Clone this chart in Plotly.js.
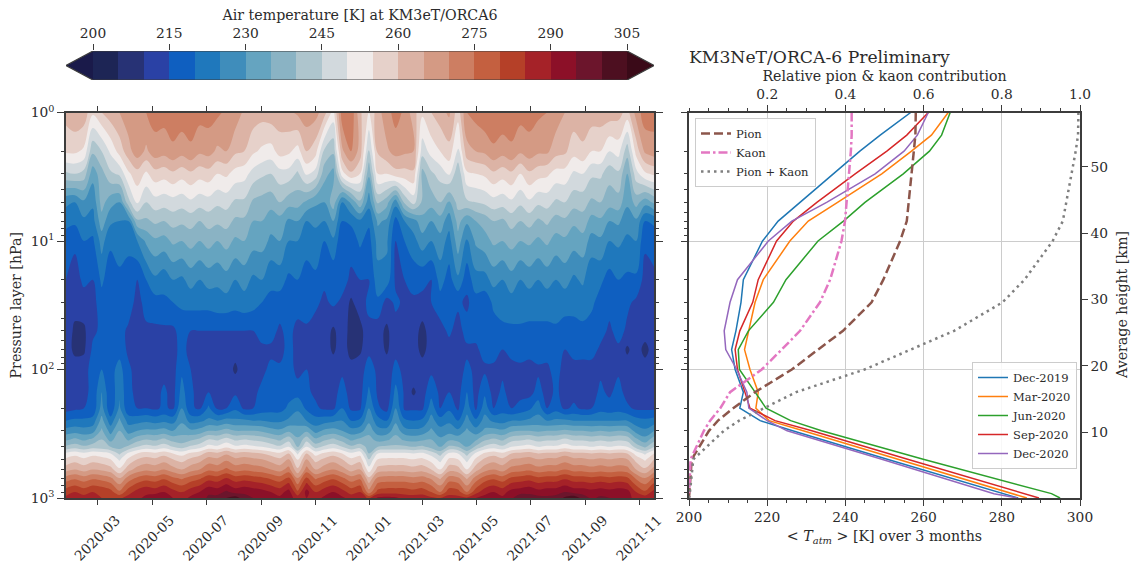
<!DOCTYPE html>
<html><head><meta charset="utf-8">
<script src="https://cdn.plot.ly/plotly-3.0.1.min.js"></script>
<style>html,body{margin:0;padding:0;background:#fff}#c{width:1136px;height:566px}</style>
</head><body><div id="c"></div>
<script>
// band colours: below 200, 200-205 ... 300-305, above 305
const bandColors=['#1a1a4a','#1d2555','#273275','#2a41a5','#0f5fc0','#1f78bc','#3f8dbb','#65a4c0','#8ab3c4','#aec5cd','#d2d9dd','#f0ebea','#e6d1ca','#dcb3a5','#d49a84','#cd7e62','#c46040','#b54028','#a52228','#8c1028','#6c152c','#4d0f20','#3a0a18'];
const colorbarTicks=[200,215,230,245,260,275,290,305];
const colorbarEdges=[200,205,210,215,220,225,230,235,240,245,250,255,260,265,270,275,280,285,290,295,300,305];
const colorbarMids=[202.5,207.5,212.5,217.5,222.5,227.5,232.5,237.5,242.5,247.5,252.5,257.5,262.5,267.5,272.5,277.5,282.5,287.5,292.5,297.5,302.5];
const startDate='2020-01-25';
const stepMs=866592000;
const pressureLevels=[1,2,3,5,7,10,20,30,50,70,100,150,200,250,300,350,400,450,500,600,700,800,900,1000];
const t1=[262,264,263,256,260,263,265,268,270,270,272,272,273,273,273,272,272,271,269,268,264,263,262,263,263,264,266,268,267,262,253,273,274,261,255,263,268,272,269,262,256,260,263,266,257,270,272,274,274,274,273,272,272,271,270,268,265,263,263,263,263,263,262,258,267,273,272];
const t2=[256,256,254,241,245,251,257,263,268,264,268,267,269,267,269,266,267,264,265,261,260,256,254,253,257,256,253,260,257,244,241,264,270,263,244,261,264,267,266,265,247,252,255,258,249,263,265,266,269,267,269,266,268,266,266,262,261,257,259,255,255,250,252,242,257,266,268];
const t3=[244,245,243,232,238,244,246,254,258,254,258,257,259,257,259,257,258,255,256,253,252,248,246,245,248,248,244,251,248,237,233,253,259,255,236,255,255,258,258,259,238,244,247,251,241,254,255,256,259,257,259,255,259,257,256,253,253,249,250,246,246,242,244,235,248,254,256];
const t5=[226,225,229,226,237,232,230,243,251,245,248,247,248,247,249,247,248,246,247,244,244,239,238,237,240,237,237,234,231,230,238,225,231,239,227,241,237,227,241,247,239,237,240,234,242,244,245,246,248,247,249,246,249,246,247,244,245,242,242,239,240,237,238,231,237,232,236];
const t7=[222,221,224,223,233,226,225,225,239,239,241,240,242,241,242,240,242,241,242,239,239,235,235,232,233,229,230,225,226,225,230,220,221,224,221,231,229,218,225,228,233,230,233,227,237,231,235,237,240,239,242,240,242,239,241,238,239,236,238,233,234,230,231,227,229,220,221];
const t10=[217,216,220,219,227,221,222,222,225,231,234,233,236,235,237,235,237,235,237,234,235,232,232,229,230,225,225,222,223,220,224,216,217,221,218,227,226,215,220,223,228,225,228,223,233,224,231,233,236,235,237,235,236,234,236,233,234,232,233,228,229,225,226,224,225,216,217];
const t20=[215,213,216,215,221,217,219,217,215,220,224,222,225,224,227,225,227,226,228,225,227,224,225,221,222,219,220,218,219,216,216,217,214,215,215,223,223,214,215,217,216,215,222,218,224,217,223,223,227,225,228,225,227,225,227,225,227,224,226,221,221,218,220,219,219,213,214];
const t30=[213,212,213,213,218,218,218,218,213,217,218,219,220,221,222,222,222,223,223,222,223,222,220,219,218,219,218,218,216,214,216,214,209,213,216,219,213,216,214,214,214,215,218,218,216,214,218,217,221,222,223,223,222,222,222,223,222,222,222,221,218,217,218,216,214,214,213];
const t50=[213,209,209,214,216,217,217,214,212,214,214,214,214,217,215,215,215,215,215,215,215,215,217,217,214,217,213,214,213,213,209,213,208,208,214,212,209,213,213,213,208,213,213,216,213,217,217,217,218,219,219,219,219,219,219,219,218,218,219,218,217,214,217,214,213,213,213];
const t70=[212,209,209,216,217,217,218,214,212,214,213,213,213,217,213,213,213,213,213,212,213,213,214,214,213,217,213,214,214,213,209,213,208,209,214,213,209,214,213,213,208,213,213,213,213,214,214,217,217,215,217,217,217,218,217,218,215,217,217,217,214,213,214,209,213,208,213];
const t100=[213,212,213,217,220,218,222,216,213,214,213,213,213,219,215,213,213,213,213,209,213,213,214,216,216,218,213,215,214,213,213,214,212,213,217,214,213,216,214,214,213,214,214,214,213,216,214,214,214,214,213,214,213,214,214,217,213,213,213,213,214,214,214,213,213,213,213];
const t150=[213,213,214,216,225,216,224,216,214,215,213,216,213,222,216,213,215,213,213,214,213,214,216,216,216,218,218,216,214,213,213,217,213,213,221,214,210,222,214,209,213,218,214,215,213,220,213,219,213,216,213,213,213,217,213,216,213,213,213,213,216,214,217,213,213,213,213];
const t200=[213,214,215,216,227,216,226,216,215,215,214,216,214,225,216,214,221,214,215,219,214,215,217,218,218,221,224,219,216,214,214,220,214,214,225,216,213,225,214,214,214,223,215,219,214,223,214,223,215,218,215,217,219,223,215,218,214,216,214,215,218,217,218,216,214,214,214];
const t250=[220,221,221,222,232,222,231,223,223,224,223,224,223,229,223,224,226,225,227,226,226,225,225,224,224,226,228,225,222,223,224,225,220,221,229,222,220,229,221,220,221,227,222,224,220,227,221,227,224,223,225,225,226,227,225,226,226,225,225,225,225,225,225,225,222,221,222];
const t300=[227,228,227,228,236,228,235,228,230,231,231,232,230,233,231,232,235,235,237,235,235,235,234,232,231,234,232,234,228,231,232,230,227,228,233,227,227,233,227,226,227,231,227,228,226,231,227,231,232,231,234,235,235,234,235,235,236,235,235,234,235,234,235,234,228,226,230];
const t350=[234,236,234,236,240,233,239,234,238,240,239,241,238,237,239,241,245,244,247,244,245,244,243,241,239,243,236,243,236,239,241,238,234,236,237,233,234,237,234,233,234,235,231,234,233,235,234,239,241,239,243,244,245,243,244,244,246,244,244,243,244,243,244,243,236,232,238];
const t400=[241,243,241,243,242,240,238,241,245,247,246,248,245,243,246,248,252,251,254,251,252,251,250,248,246,250,239,250,243,246,248,245,241,243,238,240,241,241,241,240,241,238,235,241,240,235,241,246,248,246,250,251,252,250,251,251,253,251,251,250,251,250,251,250,243,239,245];
const t450=[251,253,251,253,252,250,244,251,255,257,256,258,255,253,256,258,262,261,264,261,262,261,260,258,256,260,249,260,253,256,258,255,251,253,240,250,251,251,251,250,251,248,243,251,250,243,251,256,258,256,260,261,262,260,261,261,263,261,261,260,261,260,261,260,253,249,255];
const t500=[256,258,256,258,257,255,249,256,260,262,261,263,260,258,261,263,267,266,269,266,267,266,265,263,261,265,254,265,258,261,263,260,256,258,245,255,256,256,256,255,256,253,248,256,255,248,256,261,263,261,265,266,267,265,266,266,268,266,266,265,266,265,266,265,258,254,260];
const t600=[263,265,263,265,264,262,256,263,267,269,268,270,267,265,268,270,274,273,276,273,274,273,272,270,268,272,261,272,265,268,270,267,263,265,252,262,263,263,263,262,263,260,255,263,262,255,263,268,270,268,272,273,274,272,273,273,275,273,273,272,273,272,273,272,265,261,267];
const t700=[272,274,272,274,273,271,265,272,276,278,277,279,276,274,277,279,283,282,285,282,283,282,281,279,277,281,270,281,274,277,279,276,272,274,261,271,272,272,272,271,272,269,264,272,271,264,272,277,279,277,281,282,283,281,282,282,284,282,282,281,282,281,282,281,274,270,276];
const t800=[278,280,278,280,279,277,271,278,282,284,283,285,282,280,283,285,289,288,291,288,289,288,287,285,283,287,276,287,280,283,285,282,278,280,267,277,278,278,278,277,278,275,270,278,277,270,278,283,285,283,287,288,289,287,288,288,290,288,288,287,288,287,288,287,280,276,282];
const t900=[283,285,283,285,284,282,276,283,287,289,288,290,287,285,288,290,294,293,296,293,294,293,292,290,288,292,281,292,285,288,290,287,283,285,272,282,283,283,283,282,283,280,275,283,282,275,283,288,290,288,292,293,294,292,293,293,295,293,293,292,293,292,293,292,285,281,287];
const t1000=[286,288,287,289,285,284,284,287,289,291,294,295,290,288,291,292,296,297,300,303,297,295,295,293,291,292,288,290,288,291,291,291,288,288,284,291,292,291,288,288,288,286,285,287,287,286,290,292,292,291,294,299,297,297,296,297,301,304,298,294,296,295,292,291,289,288,289];
const tempRows=[t1,t2,t3,t5,t7,t10,t20,t30,t50,t70,t100,t150,t200,t250,t300,t350,t400,t450,t500,t600,t700,t800,t900,t1000];

const profileLevels=[1,1.5,2,3,5,7,10,20,30,50,70,100,150,200,250,300,500,925,1000];
const dec2019=[256.7,248.9,243.7,236.9,228.4,222.8,218.8,213.9,213.3,212,210.9,211.8,213.9,213,218.2,226.5,250.7,280,284.2];
const mar2020=[266.3,262,256.9,249.3,238,230.5,225.8,219,216.9,215.2,214.2,215.6,217.7,217.1,220.5,229.2,253.5,282.9,286.4];
const jun2020=[266.8,264.6,261.5,254.8,245,239.5,233,224.8,221.6,215.2,212.6,212.9,216.9,219.7,226,233.9,259.9,292.7,294.9];
const sep2020=[261.2,255.7,250.6,242.5,232.7,226.7,222.4,217.7,216.3,213,211.8,212.4,214.3,215.6,222,231.4,255.9,285.5,289.5];
const dec2020=[261.2,258.4,255,247.6,235.2,226.3,220.3,212.4,210.5,209,209.4,212.2,214.8,215.3,220,225.1,249.3,278,284];
const pion=[.58,.579,.575,.569,.563,.557,.54,.497,.467,.394,.33,.263,.169,.113,.074,.051,.007,.001,0];
const kaon=[.416,.416,.414,.409,.403,.399,.39,.361,.335,.284,.237,.186,.105,.08,.054,.038,.004,.001,0];
const pionKaon=[.996,.995,.989,.978,.966,.956,.93,.858,.802,.678,.567,.449,.274,.193,.128,.089,.011,.002,0];
const heightTicks=[10,20,30,40,50];

const W=1136,H=566,ink='#2b2b2b',spine='#3c3c3c',fnt='"DejaVu Serif",serif';
const px=x=>x/W, py=y=>(H-y)/H;
const contourScale=bandColors.map((c,i)=>[i/22,c]);
const barScale=[];colorbarMids.forEach((m,i)=>{barScale.push([i/21,bandColors[i+1]]);barScale.push([(i+1)/21,bandColors[i+1]]);});
const minorLog=[2,3,4,5,6,7,8,9,20,30,40,50,60,70,80,90,200,300,400,500,600,700,800,900];
const tickFont={family:fnt,size:13.8,color:ink};
const titleFont={family:fnt,size:14.2,color:ink};

const traces=[
 {type:'contour',x0:startDate,dx:stepMs,y:pressureLevels,z:tempRows,xaxis:'x',yaxis:'y',
  autocontour:false,contours:{start:200,end:305,size:5,coloring:'fill',showlines:false},line:{width:0},
  colorscale:contourScale,zauto:false,zmin:195,zmax:310,showscale:false,hoverinfo:'skip'},
 {type:'heatmap',x:colorbarEdges,y:[0,1],z:[colorbarMids],xaxis:'x3',yaxis:'y3',colorscale:barScale,zmin:200,zmax:305,showscale:false,hoverinfo:'skip'},
 {type:'scatter',mode:'lines',x:[200,194.69,200],y:[0,.5,1],xaxis:'x3',yaxis:'y3',fill:'toself',fillcolor:bandColors[0],line:{width:0},showlegend:false,hoverinfo:'skip',cliponaxis:false},
 {type:'scatter',mode:'lines',x:[305,310.31,305],y:[0,.5,1],xaxis:'x3',yaxis:'y3',fill:'toself',fillcolor:bandColors[22],line:{width:0},showlegend:false,hoverinfo:'skip',cliponaxis:false},
 {type:'scatter',mode:'lines',x:[200,194.69,200,305,310.31,305,200],y:[1,.5,0,0,.5,1,1],xaxis:'x3',yaxis:'y3',line:{width:1.2,color:spine},showlegend:false,hoverinfo:'skip',cliponaxis:false},
];
const seasons=[['Dec-2019',dec2019,'#1f77b4'],['Mar-2020',mar2020,'#ff7f0e'],['Jun-2020',jun2020,'#2ca02c'],['Sep-2020',sep2020,'#d62728'],['Dec-2020',dec2020,'#9467bd']];
seasons.forEach(s=>traces.push({type:'scatter',mode:'lines',name:s[0],x:s[1],y:profileLevels,xaxis:'x2',yaxis:'y2',line:{color:s[2],width:1.5},legend:'legend2',hoverinfo:'skip'}));
[['Pion',pion,'#8c564b','9px,4px'],['Kaon',kaon,'#e377c2','9px,3px,2.5px,3px'],['Pion + Kaon',pionKaon,'#7f7f7f','2.5px,4px']].forEach(s=>
 traces.push({type:'scatter',mode:'lines',name:s[0],x:s[1],y:profileLevels,xaxis:'x4',yaxis:'y2',line:{color:s[2],width:2.5,dash:s[3]},legend:'legend',hoverinfo:'skip'}));
traces.push({type:'scatter',mode:'lines',x:[200,200,200,200,200],y:heightTicks,xaxis:'x2',yaxis:'y4',line:{width:0},showlegend:false,hoverinfo:'skip'});

const layout={
 width:W,height:H,margin:{l:0,r:0,t:0,b:0},autosize:false,paper_bgcolor:'#fff',plot_bgcolor:'#fff',font:{family:fnt,size:13,color:ink},
 title:{text:'KM3NeT/ORCA-6 Preliminary',x:px(689),xanchor:'left',xref:'paper',y:py(57),yanchor:'middle',yref:'paper',font:{family:fnt,size:17.2,color:ink}},
 xaxis:{domain:[px(66),px(654)],anchor:'y',type:'date',range:['2020-01-25','2021-11-17'],tick0:'2020-03-01',dtick:'M2',tickformat:'%Y-%m',tickangle:-45,ticklabelshift:18,ticklabelstandoff:2,
  ticks:'outside',ticklen:5,tickwidth:1.2,tickcolor:spine,tickfont:tickFont,showline:true,linecolor:spine,linewidth:1.5,mirror:'allticks',showgrid:false,zeroline:false},
 yaxis:{domain:[py(498),py(112.5)],anchor:'x',type:'log',range:[3,0],tickvals:[1,10,100,1000],ticktext:['10<sup>0</sup>','10<sup>1</sup>','10<sup>2</sup>','10<sup>3</sup>'],
  ticks:'outside',ticklen:7,tickwidth:1.2,tickcolor:spine,tickfont:tickFont,showline:true,linecolor:spine,linewidth:1.5,mirror:'allticks',showgrid:false,zeroline:false,
  minor:{tickvals:minorLog,ticks:'outside',ticklen:3,tickwidth:1,tickcolor:spine,showgrid:false},
  title:{text:'Pressure layer [hPa]',font:titleFont,standoff:6}},
 xaxis3:{domain:[px(66),px(654)],anchor:'y3',side:'top',range:[194.69,310.31],tickvals:colorbarTicks,ticks:'outside',ticklen:6,tickwidth:1.2,tickcolor:spine,tickfont:tickFont,showline:false,showgrid:false,zeroline:false,
  title:{text:'Air temperature [K] at KM3eT/ORCA6',font:titleFont,standoff:1}},
 yaxis3:{domain:[py(80),py(51)],anchor:'x3',range:[0,1],showticklabels:false,ticks:'',showline:false,showgrid:false,zeroline:false},
 xaxis2:{domain:[px(689),px(1080)],anchor:'y2',side:'bottom',range:[200,300],tickvals:[200,220,240,260,280,300],ticks:'outside',ticklen:6,tickwidth:1.2,tickcolor:spine,tickfont:tickFont,showline:true,linecolor:spine,linewidth:1.5,showgrid:true,gridcolor:'#cccccc',gridwidth:1.3,zeroline:false,
  minor:{dtick:5,ticks:'outside',ticklen:3,tickwidth:1,tickcolor:spine,showgrid:false},
  title:{text:'&lt; <i>T<sub>atm</sub></i> &gt; [K] over 3 months',font:titleFont,standoff:7}},
 xaxis4:{overlaying:'x2',anchor:'y2',side:'top',range:[0,1],tickvals:[.2,.4,.6,.8,1],tickformat:'.1f',ticks:'outside',ticklen:6,tickwidth:1.2,tickcolor:spine,tickfont:tickFont,showline:true,linecolor:spine,linewidth:1.5,showgrid:false,zeroline:false,
  minor:{dtick:.05,ticks:'outside',ticklen:3,tickwidth:1,tickcolor:spine,showgrid:false},
  title:{text:'Relative pion &amp; kaon contribution',font:titleFont,standoff:1}},
 yaxis2:{domain:[py(498),py(112.5)],anchor:'x2',type:'log',range:[3,0],tickvals:[1,10,100,1000],showticklabels:false,ticks:'outside',ticklen:6,tickwidth:1.2,tickcolor:spine,showline:true,linecolor:spine,linewidth:1.5,showgrid:true,gridcolor:'#cccccc',gridwidth:1.3,zeroline:false,
  minor:{tickvals:minorLog,ticks:'outside',ticklen:3,tickwidth:1,tickcolor:spine,showgrid:false}},
 yaxis4:{overlaying:'y2',anchor:'x2',side:'right',range:[0.1,58.2],tickvals:heightTicks,ticks:'outside',ticklen:6,tickwidth:1.2,tickcolor:spine,tickfont:tickFont,showline:true,linecolor:spine,linewidth:1.5,showgrid:false,zeroline:false},
 legend:{x:px(695),y:py(118),xanchor:'left',yanchor:'top',bgcolor:'rgba(255,255,255,.85)',bordercolor:'#cccccc',borderwidth:1,font:{family:fnt,size:11.5,color:ink},tracegroupgap:0,itemwidth:30},
 legend2:{x:px(972),y:py(362),xanchor:'left',yanchor:'top',bgcolor:'rgba(255,255,255,.85)',bordercolor:'#cccccc',borderwidth:1,font:{family:fnt,size:11.5,color:ink},tracegroupgap:0,itemwidth:30},
 annotations:[{text:'Average height [km]',xref:'paper',yref:'paper',x:px(1122),y:py(305),xanchor:'center',yanchor:'middle',textangle:-90,showarrow:false,font:titleFont}]
};
Plotly.newPlot('c',traces,layout,{displayModeBar:false,responsive:false});
</script></body></html>
